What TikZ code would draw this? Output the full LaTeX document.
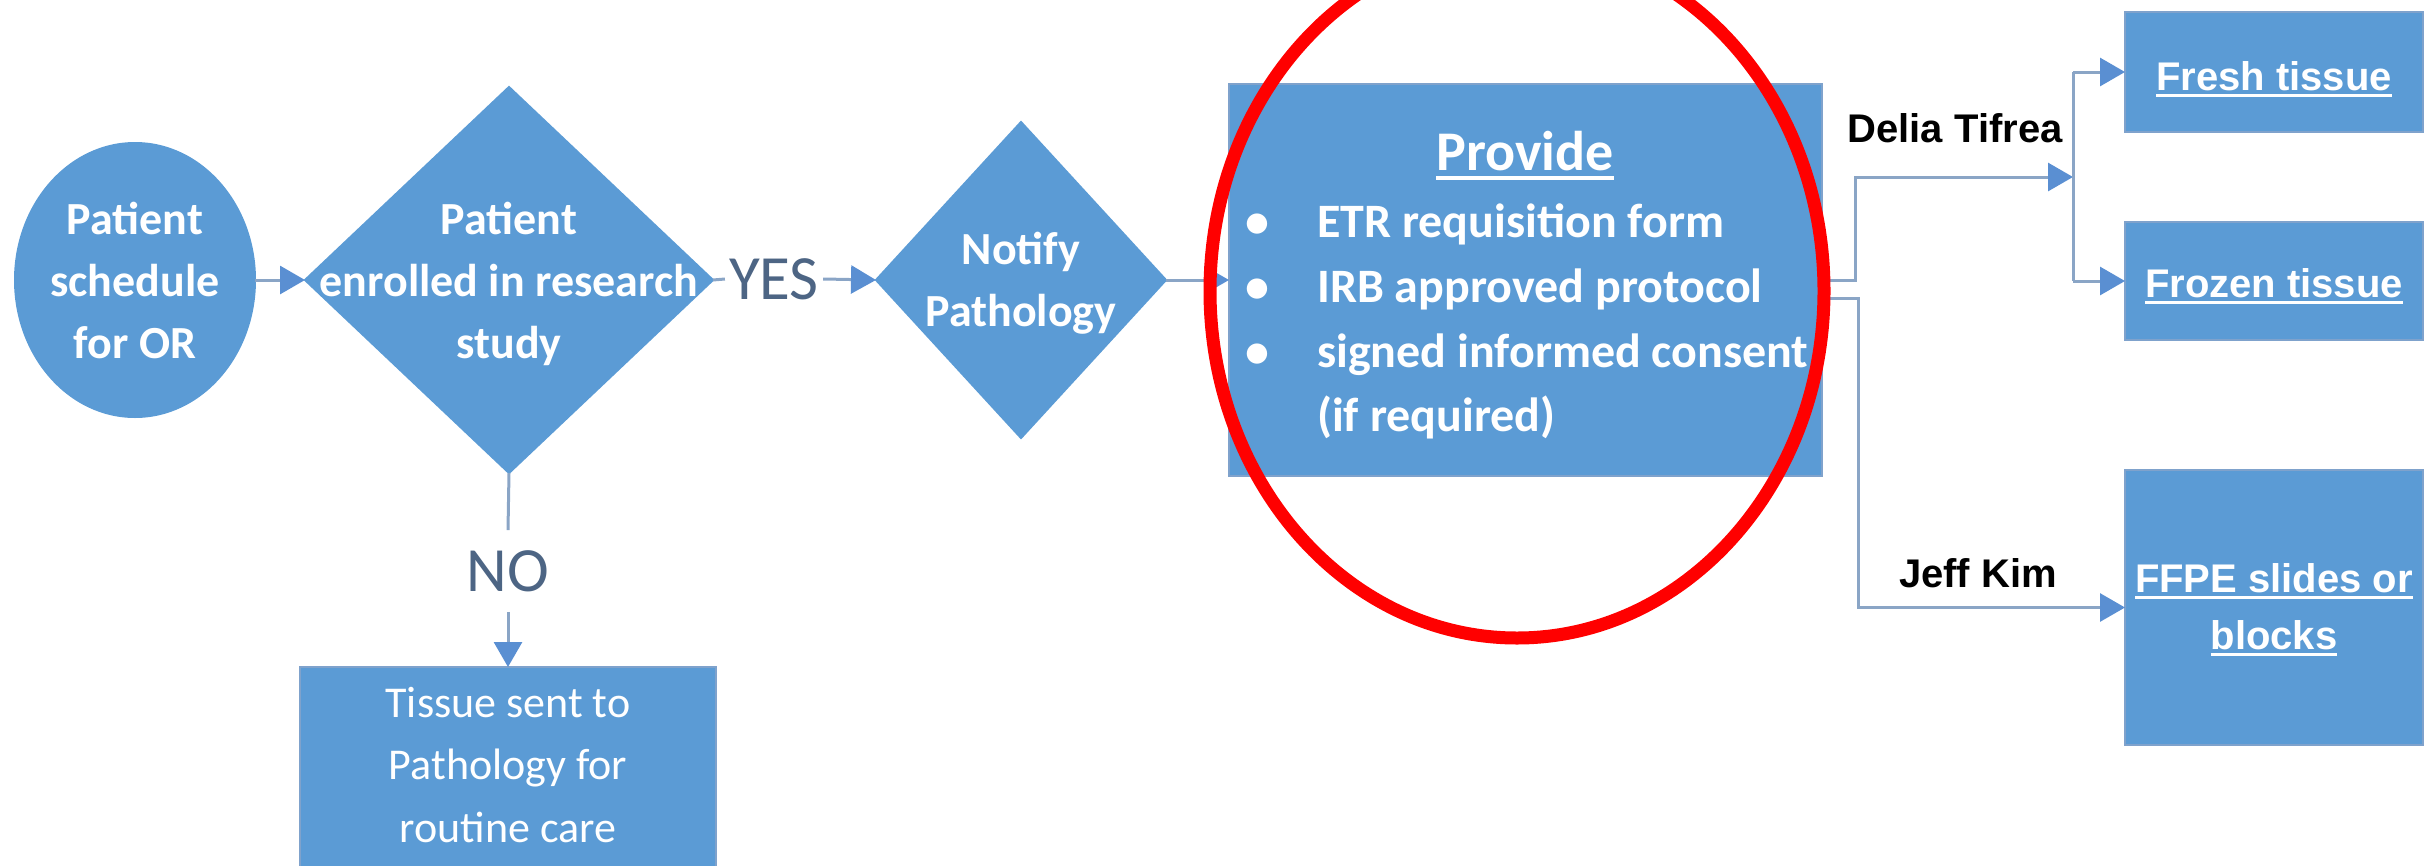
\documentclass[tikz,border=0pt]{standalone}
\usepackage{fontspec}
\setmainfont{Carlito}
\newfontfamily\labelfont{Liberation Sans}
\usetikzlibrary{shapes.geometric,arrows.meta}

\definecolor{shapeblue}{HTML}{5B9BD5}
\definecolor{shapeedge}{HTML}{7FA2CC}
\definecolor{linkgray}{HTML}{8AA5C6}
\definecolor{tipblue}{HTML}{5A8FD2}
\definecolor{answer}{HTML}{4D6584}

% underline drawn as a rule below the text
\newsavebox\ulbox
\newcommand\ulx[1]{\leavevmode\sbox\ulbox{#1}\rlap{\rule[-0.17em]{\wd\ulbox}{0.06em}}\usebox\ulbox}
\newcommand\setfs[2]{\fontsize{#1}{#2}\selectfont}

\begin{document}
\begin{tikzpicture}[x=1pt,y=-1pt,
  shapebox/.style={fill=shapeblue,draw=shapeedge,line width=2pt,outer sep=0pt,inner sep=0pt},
  softshape/.style={shapebox,draw=shapeblue},
  wtext/.style={text=white,inner sep=0pt,align=center},
  stepfont/.style={font=\setfs{46}{62}\bfseries},
  boxitem/.style={text=white,inner sep=0pt,font=\setfs{48}{64}\bfseries},
  outlabel/.style={text=white,inner sep=0pt,anchor=base,font=\labelfont\bfseries\setfs{40}{57}},
  person/.style={text=black,inner sep=0pt,anchor=base,font=\labelfont\bfseries\setfs{40}{48}},
  answerlabel/.style={text=answer,font=\setfs{63}{70}},
  link/.style={draw=linkgray,line width=3pt},
  arr/.style={link,-{Triangle[length=25pt,width=28pt,color=tipblue]}}
]
\useasboundingbox (0,0) rectangle (2431,865);
\clip (0,0) rectangle (2431,865);

% start: patient scheduled
\node[softshape,ellipse,minimum width=240pt,minimum height=274pt] (start) at (135,280) {};
\node[wtext,stepfont] (starttxt) at (135,280) {Patient\\schedule\\for OR};

% decision: enrolled in a study
\node[softshape,diamond,minimum width=408pt,minimum height=386pt] (enrol) at (509,280) {};
\node[wtext,stepfont] (enroltxt) at (509,284) {Patient\\enrolled in research\\study};

% notify pathology
\node[softshape,diamond,minimum width=290pt,minimum height=316pt] (notify) at (1021,280) {};
\node[wtext,stepfont] (notifytxt) at (1021,283) {Notify\\Pathology};

% documents to provide
\node[shapebox,minimum width=593pt,minimum height=392pt] (provide) at (1525.5,280) {};
\node[text=white,inner sep=0pt,anchor=base,font=\setfs{56}{60}\bfseries] (providetitle) at (1525,170) {\ulx{Provide}};
\node[boxitem,anchor=base] (dot1) at (1257,237) {\textbullet};
\node[boxitem,anchor=base] (dot2) at (1257,302) {\textbullet};
\node[boxitem,anchor=base] (dot3) at (1257,367) {\textbullet};
\node[boxitem,anchor=base west] (item1) at (1317,237) {ETR requisition form};
\node[boxitem,anchor=base west] (item2) at (1317,302) {IRB approved protocol};
\node[boxitem,anchor=base west] (item3) at (1317,367) {signed informed consent};
\node[boxitem,anchor=base west] (item4) at (1317,431) {(if required)};

% routine care branch
\node[shapebox,minimum width=416pt,minimum height=240pt,anchor=north] (tissue) at (508,667) {};
\node[wtext,font=\setfs{44}{62.5}] (tissuetxt) at (508,765) {Tissue sent to\\Pathology for\\routine care};

% outputs
\node[shapebox,minimum width=298pt,minimum height=120pt] (fresh) at (2274,72) {};
\node[outlabel] (freshtxt) at (2274,90) {\ulx{Fresh tissue}};
\node[shapebox,minimum width=298pt,minimum height=118pt] (frozen) at (2274,281) {};
\node[outlabel] (frozentxt) at (2274,297) {\ulx{Frozen tissue}};
\node[shapebox,minimum width=298pt,minimum height=275pt] (ffpe) at (2274,607.5) {};
\node[outlabel] (ffpetxt1) at (2274,592) {\ulx{FFPE slides or}};
\node[outlabel] (ffpetxt2) at (2274,649) {\ulx{blocks}};

% branch labels
\node[answerlabel,inner xsep=4pt,inner ysep=0pt] (yes) at (774,279) {YES};
\node[answerlabel,inner xsep=0pt,inner ysep=20pt] (no) at (508,571) {NO};
\node[person] (delia) at (1955,142) {Delia Tifrea};
\node[person] (jeff) at (1978,587) {Jeff Kim};

% connectors
\draw[arr] (start.east) -- (enrol.west);
\draw[link] (enrol.east) -- (yes.west);
\draw[arr] (yes.east) -- (notify.west);
\draw[link] (enrol.south) -- (no.north);
\draw[arr] (no.south) -- (tissue.north);
\draw[arr] (notify.east) -- (provide.west);

\coordinate (jn) at (2073,177);
\coordinate (jtop) at (jn |- fresh.west);
\coordinate (jbot) at (jn |- frozen.west);
\draw[arr] (provide.east) -- ++(33,0) |- (jn);
\draw[link] (jtop) -- (jbot);
\draw[arr] (jtop) -- (fresh.west);
\draw[arr] (jbot) -- (frozen.west);
\draw[arr] ([yshift=-18pt]provide.east) -- ++(36,0) |- (ffpe.west);

% highlight ring
\draw[red,line width=13pt] (1517,291) ellipse [x radius=307pt, y radius=347pt];
\end{tikzpicture}
\end{document}
